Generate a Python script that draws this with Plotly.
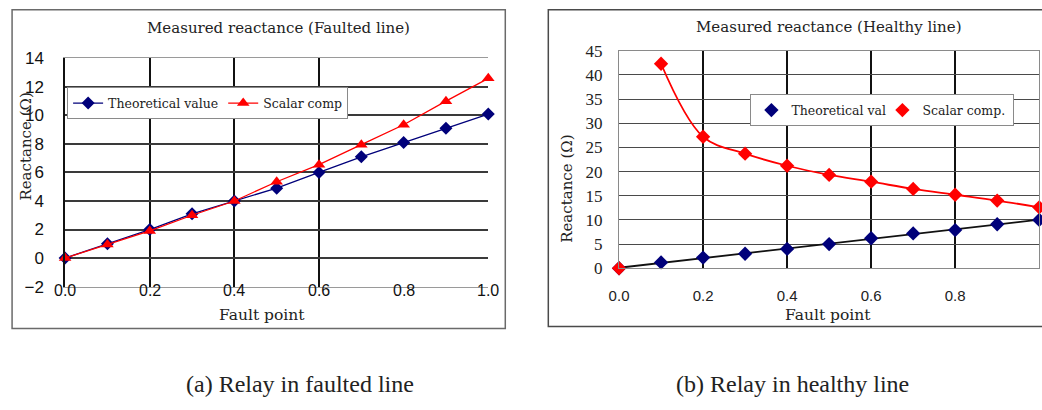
import numpy as np
import plotly.graph_objects as go

# ---- data -------------------------------------------------------------
fault_point = [0.0, 0.1, 0.2, 0.3, 0.4, 0.5, 0.6, 0.7, 0.8, 0.9, 1.0]

# (a) relay in faulted line
faulted_theoretical = [0.0, 1.0, 2.0, 3.1, 4.0, 4.9, 6.0, 7.1, 8.1, 9.1, 10.1]
faulted_scalar = [0.0, 0.95, 1.9, 3.0, 4.0, 5.35, 6.55, 7.95, 9.35, 11.0, 12.6]

# (b) relay in healthy line
healthy_theoretical = [0.0, 1.2, 2.2, 3.0, 4.0, 5.0, 6.2, 7.2, 7.9, 9.1, 10.0]
healthy_scalar = [0.0, 42.3, 27.2, 23.7, 21.2, 19.3, 17.9, 16.4, 15.2, 14.0, 12.6]

x_ticks = [0.0, 0.2, 0.4, 0.6, 0.8, 1.0]
x_ticktext_a = ["0.0", "0.2", "0.4", "0.6", "0.8", "1.0"]
x_ticktext_b = ["0.0", "0.2", "0.4", "0.6", "0.8", "1.0"]
y_ticks_a = [-2, 0, 2, 4, 6, 8, 10, 12, 14]
y_ticks_b = [0, 5, 10, 15, 20, 25, 30, 35, 40, 45]
grid_x_a = [0.2, 0.4, 0.6]

titles = ["Measured reactance (Faulted line)", "Measured reactance (Healthy line)"]
captions = ["(a) Relay in faulted line", "(b) Relay in healthy line"]
y_title = "Reactance (\u03a9)"
x_title = "Fault point"

# Figure size and a helper that converts page pixel positions into
# paper fractions (the page body keeps its default 8px margin).
PAD = 8
SX = 0.99
SY = 410 / 430
W, H = 1044, 414
NAVY = "#00007a"
RED = "#ff0000"
SERIF = "DejaVu Serif"
SANS = "Liberation Sans"


def px(x):
    return min(max((x / SX - PAD) / W, 0.0), 1.0)


def py(y):
    return min(max(1 - (y / SY - PAD) / H, 0.0), 1.0)


fig = go.Figure()

# ---- panel (a) --------------------------------------------------------
fig.add_trace(go.Scatter(
    x=fault_point, y=faulted_theoretical, name="Theoretical value",
    mode="lines+markers", line=dict(color=NAVY, width=1.3),
    marker=dict(symbol="diamond", size=10, color=NAVY),
    xaxis="x", yaxis="y", legend="legend", cliponaxis=False))
fig.add_trace(go.Scatter(
    x=fault_point, y=faulted_scalar, name="Scalar comp",
    mode="lines+markers", line=dict(color=RED, width=1.3),
    marker=dict(symbol="triangle-up", size=11, color=RED),
    xaxis="x", yaxis="y", legend="legend", cliponaxis=False))

# ---- panel (b) --------------------------------------------------------
slope, intercept = np.polyfit(fault_point, healthy_theoretical, 1)
fit_x = [fault_point[0], fault_point[-1]]
fig.add_trace(go.Scatter(
    x=fit_x, y=[slope * v + intercept for v in fit_x], mode="lines",
    line=dict(color="#111111", width=1.8), showlegend=False,
    xaxis="x2", yaxis="y2", cliponaxis=False, hoverinfo="skip"))
fig.add_trace(go.Scatter(
    x=fault_point, y=healthy_theoretical, name="Theoretical val",
    mode="markers", marker=dict(symbol="diamond", size=11, color=NAVY),
    xaxis="x2", yaxis="y2", legend="legend2", cliponaxis=False))
fig.add_trace(go.Scatter(
    x=fault_point[1:], y=healthy_scalar[1:], mode="lines",
    line=dict(color=RED, width=1.8, shape="spline", smoothing=1.0),
    showlegend=False, xaxis="x2", yaxis="y2", cliponaxis=False,
    hoverinfo="skip"))
fig.add_trace(go.Scatter(
    x=fault_point, y=healthy_scalar, name="Scalar comp.",
    mode="markers", marker=dict(symbol="diamond", size=11, color=RED),
    xaxis="x2", yaxis="y2", legend="legend2", cliponaxis=False))

dom_xa = [px(63), px(486)]
dom_ya = [py(285), py(57)]
dom_xb = [px(616.7), px(1036.7)]
dom_yb = [py(266.7), py(49.3)]

fig.update_layout(
    width=W, height=H, margin=dict(l=0, r=0, t=0, b=0),
    paper_bgcolor="white", plot_bgcolor="white",
    xaxis=dict(domain=dom_xa, range=[0, 1], anchor="y",
               tickvals=grid_x_a, showticklabels=False, ticks="",
               showgrid=True, gridcolor="#111111", gridwidth=1.5,
               showline=True, linecolor="#9a9a9a", linewidth=1.2,
               mirror=True, zeroline=False),
    yaxis=dict(domain=dom_ya, range=[-2, 14], anchor="x",
               tickvals=y_ticks_a, ticks="", ticklabelstandoff=16,
               showgrid=True, gridcolor="#3a3a3a", gridwidth=1.5,
               zeroline=False, showline=True, linecolor="#111111",
               linewidth=1.5,
               tickfont=dict(family=SANS, size=17, color="#111111")),
    xaxis2=dict(domain=dom_xb, range=[0, 1], anchor="y2",
                tickvals=x_ticks, ticktext=x_ticktext_b, ticks="",
                ticklabelstandoff=14,
                showgrid=True, gridcolor="#111111", gridwidth=1.5,
                showline=True, linecolor="#8a8a8a", linewidth=1.2,
                mirror=True, zeroline=False,
                tickfont=dict(family=SANS, size=15, color="#222222")),
    yaxis2=dict(domain=dom_yb, range=[0, 45], anchor="x2",
                tickvals=y_ticks_b, ticks="", ticklabelstandoff=12,
                showgrid=True, gridcolor="#4a4a4a", gridwidth=1.4,
                zeroline=False, showline=True, linecolor="#8a8a8a",
                linewidth=1.2, mirror=True,
                tickfont=dict(family="Liberation Serif", size=17,
                              color="#222222")),
    legend=dict(orientation="h", x=px(65), y=py(86), xanchor="left",
                yanchor="top", bgcolor="white", bordercolor="#8a8a8a",
                borderwidth=1,
                font=dict(family=SERIF, size=12.5, color="#222222")),
    legend2=dict(orientation="h", x=px(748), y=py(93), xanchor="left",
                 yanchor="top", bgcolor="white", bordercolor="#8a8a8a",
                 borderwidth=1, entrywidth=86, entrywidthmode="pixels",
                 font=dict(family=SERIF, size=12.5, color="#222222")),
)

# frames around each chart
fig.add_shape(type="rect", xref="paper", yref="paper",
              x0=px(10), x1=px(503), y0=py(327), y1=0.998,
              line=dict(color="#6a6a6a", width=1.5), layer="below")
fig.add_shape(type="rect", xref="paper", yref="paper",
              x0=px(546), x1=1.05, y0=py(325), y1=0.998,
              line=dict(color="#4a4a4a", width=1.5), layer="below")

# x tick labels of panel (a) sit on the bottom frame line
for tv, tt in zip(x_ticks, x_ticktext_a):
    fig.add_annotation(text=tt, x=tv, xref="x", y=py(289), yref="paper",
                       showarrow=False, xanchor="center", yanchor="middle",
                       font=dict(family=SANS, size=16, color="#111111"))

ann = [
    (titles[0], 276, 27, SERIF, 15, 0),
    (titles[1], 827, 26, SERIF, 15, 0),
    (x_title, 260, 313, SERIF, 15.5, 0),
    (x_title, 826, 313, SERIF, 15.5, 0),
    (y_title, 24, 145, SERIF, 15, -90),
    (y_title, 565, 187, SERIF, 15, -90),
    (captions[0], 298, 382, "Liberation Serif", 24, 0),
    (captions[1], 790, 382, "Liberation Serif", 24, 0),
]
for text, ax_, ay_, fam, size, ang in ann:
    fig.add_annotation(text=text, x=px(ax_), y=py(ay_), xref="paper",
                       yref="paper", showarrow=False, textangle=ang,
                       xanchor="center", yanchor="middle",
                       font=dict(family=fam, size=size, color="#222222"))

fig.write_html("out.html")
